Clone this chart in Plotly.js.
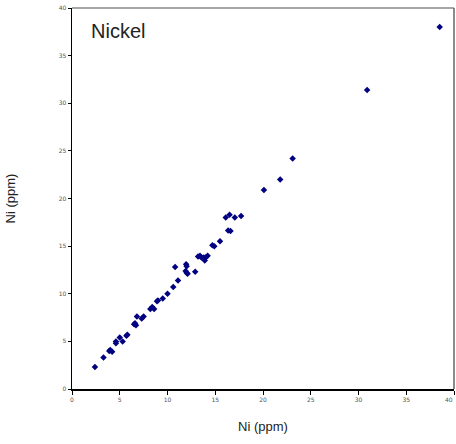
<!DOCTYPE html>
<html><head><meta charset="utf-8">
<script src="https://cdn.plot.ly/plotly-3.0.1.min.js"></script>
<style>html,body{margin:0;padding:0;background:#fff}#chart{width:456px;height:444px}</style>
</head><body><div id="chart"></div>
<script>
const niX = [2.4,3.3,3.9,4.2,4.0,4.6,4.6,5.0,5.3,5.7,5.8,6.5,6.7,6.6,6.8,7.3,7.5,8.2,8.4,8.6,8.9,9.0,9.5,10.0,10.6,10.8,11.1,11.95,12.0,11.9,12.0,12.1,12.9,13.2,13.4,13.55,13.8,13.9,14.0,14.2,14.7,14.9,15.5,16.1,16.5,16.35,16.6,17.05,17.7,20.1,21.8,23.1,30.9,38.5];
const niY = [2.3,3.3,4.0,3.9,4.1,5.0,4.8,5.4,5.0,5.6,5.7,6.8,6.7,6.9,7.6,7.4,7.6,8.4,8.6,8.4,9.2,9.3,9.5,10.0,10.7,12.8,11.4,13.1,12.9,12.4,12.2,12.1,12.3,13.9,14.0,13.8,13.8,13.5,13.8,14.0,15.1,15.0,15.5,18.0,18.3,16.65,16.6,18.0,18.15,20.9,22.0,24.2,31.4,38.0];
const tickVals = [0,5,10,15,20,25,30,35,40];
const chartTitle = "Nickel";
const axisLabel = "Ni (ppm)";

const tickFont = {family:"DejaVu Sans, sans-serif", size:6, color:"#555"};
Plotly.newPlot("chart", [{
  x: niX, y: niY, type: "scatter", mode: "markers",
  marker: {symbol: "diamond", size: 5, color: "#000080"},
  hoverinfo: "none", cliponaxis: false
}], {
  width: 456, height: 444,
  margin: {l: 72, r: 2, t: 8, b: 55},
  paper_bgcolor: "#fff", plot_bgcolor: "#fff",
  showlegend: false,
  xaxis: {range: [0, 40], tickvals: tickVals, ticks: "outside", ticklen: 4, tickcolor: "#000",
    showline: true, linecolor: "#000", linewidth: 1.5, showgrid: false, zeroline: false,
    tickfont: tickFont,
    title: {text: axisLabel, font: {family: "Liberation Sans, Arial, sans-serif", size: 13, color: "#222"}, standoff: 20}},
  yaxis: {range: [0, 40], tickvals: tickVals, ticks: "outside", ticklen: 3, tickcolor: "#000",
    showline: true, linecolor: "#000", linewidth: 1.5, showgrid: false, zeroline: false,
    tickfont: tickFont,
    title: {text: axisLabel, font: {family: "Liberation Sans, Arial, sans-serif", size: 13, color: "#222"}, standoff: 40}},
  shapes: [
    {type: "line", xref: "paper", yref: "paper", x0: 0, x1: 1, y0: 1, y1: 1, line: {color: "#888", width: 1.5}},
    {type: "line", xref: "paper", yref: "paper", x0: 1, x1: 1, y0: 0, y1: 1, line: {color: "#666", width: 1.5}}
  ],
  annotations: [
    {text: chartTitle, xref: "paper", yref: "paper", x: 0.045, y: 0.975, xanchor: "left", yanchor: "top",
     showarrow: false, font: {family: "Liberation Sans, Arial, sans-serif", size: 20, color: "#222"}},
    {text: String(tickVals[tickVals.length - 1]), xref: "x", yref: "paper", x: tickVals[tickVals.length - 1], y: 0,
     yanchor: "top", xanchor: "right", xshift: 1, yshift: -5, showarrow: false, font: tickFont}
  ]
}, {staticPlot: true});
</script></body></html>
